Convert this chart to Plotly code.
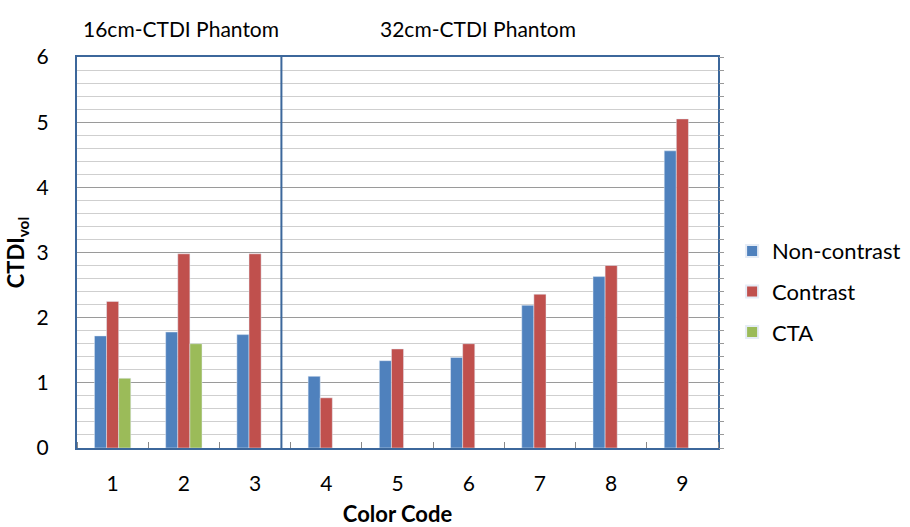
import plotly.graph_objects as go

categories = [1, 2, 3, 4, 5, 6, 7, 8, 9]
non_contrast = [1.72, 1.78, 1.74, 1.10, 1.34, 1.39, 2.19, 2.63, 4.56]
contrast = [2.25, 2.98, 2.98, 0.77, 1.52, 1.60, 2.36, 2.80, 5.05]
cta = [1.07, 1.60, None, None, None, None, None, None, None]
y_ticks = [0, 1, 2, 3, 4, 5, 6]
section_labels = ["16cm-CTDI Phantom", "32cm-CTDI Phantom"]

FONT = "Lato, 'Open Sans', sans-serif"
BORDER = "#3c679b"

fig = go.Figure()
fig.add_trace(go.Bar(x=categories, y=non_contrast, name="Non-contrast", marker_color="#4F81BD", legendgroup="a"))
fig.add_trace(go.Bar(x=categories, y=contrast, name="Contrast", marker_color="#C0504D", legendgroup="b"))
fig.add_trace(go.Bar(x=categories, y=cta, name="CTA", marker_color="#9BBB59", legendgroup="c"))

fig.update_layout(
    width=910, height=527,
    margin=dict(l=77, r=192, t=57, b=79, autoexpand=False),
    paper_bgcolor="white", plot_bgcolor="white",
    barmode="group", bargap=0.49, bargroupgap=0,
    font=dict(family=FONT, size=21, color="#000"),
    legend=dict(x=1.022, y=0.40, yanchor="middle", xanchor="left",
                font=dict(size=22), itemsizing="constant", tracegroupgap=9,
                bgcolor="rgba(0,0,0,0)"),
    xaxis=dict(range=[0.5, 9.5], tickvals=categories, ticktext=[str(c) for c in categories],
               ticks="", showgrid=False, zeroline=False,
               showline=True, linecolor=BORDER, linewidth=2, mirror=True,
               ticklabelstandoff=16, tickfont=dict(size=21),
               minor=dict(tick0=0.5, dtick=1, ticks="inside", ticklen=6, tickcolor="#888", showgrid=False),
               title=dict(text="<b>Color Code</b>", font=dict(size=22), standoff=16)),
    yaxis=dict(range=[0, 6], tickvals=y_ticks, ticks="", showgrid=True, gridcolor="#9a9a9a", gridwidth=1,
               zeroline=False, showline=True, linecolor=BORDER, linewidth=2, mirror=True,
               ticklabelstandoff=22, tickfont=dict(size=21),
               minor=dict(dtick=0.2, showgrid=True, gridcolor="#cfcfcf", gridwidth=1),
               title=dict(text="<b>CTDI<sub>vol</sub></b>", font=dict(size=22), standoff=6)),
    yaxis2=dict(range=[0, 6], overlaying="y", side="right", showgrid=False, zeroline=False,
                showticklabels=False, ticks="outside", ticklen=5, tickcolor="#999",
                dtick=0.2, tick0=0, showline=False),
    annotations=[
        dict(text=section_labels[0], xref="paper", yref="paper", x=0.162, y=1.074,
             xanchor="center", yanchor="middle", showarrow=False, font=dict(size=21)),
        dict(text=section_labels[1], xref="paper", yref="paper", x=0.625, y=1.074,
             xanchor="center", yanchor="middle", showarrow=False, font=dict(size=21)),
    ],
    shapes=[dict(type="line", xref="x", yref="paper", x0=3.37, x1=3.37, y0=0, y1=1,
                 line=dict(color=BORDER, width=2))],
)
fig.add_trace(go.Scatter(x=[1], y=[0], yaxis="y2", mode="markers", marker=dict(opacity=0),
                         showlegend=False, hoverinfo="skip"))

fig.write_html("out.html")
